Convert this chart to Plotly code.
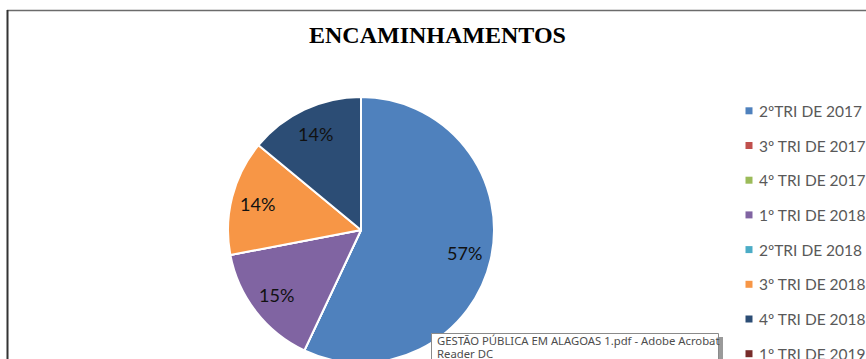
import math
import plotly.graph_objects as go

# Quarter labels and referral share (%) per quarter
quarters = [
    "2ºTRI DE 2017", "3º TRI DE 2017", "4º TRI DE 2017", "1º TRI DE 2018",
    "2ºTRI DE 2018", "3º TRI DE 2018", "4º TRI DE 2018", "1º TRI DE 2019",
]
shares = [57, 0, 0, 15, 0, 14, 14, 0]
colors = ["#4F81BD", "#C0504D", "#9BBB59", "#8064A2",
          "#4BACC6", "#F79646", "#2C4D75", "#772C2A"]

W, H = 866, 372


def px(x):
    return x / W


def py(y):
    return 1 - y / H


cx, cy, r = 361, 230, 133

fig = go.Figure(go.Pie(
    labels=quarters,
    values=shares,
    marker=dict(colors=colors, line=dict(color="white", width=2)),
    sort=False,
    direction="clockwise",
    rotation=0,
    textinfo="none",
    domain=dict(x=[px(cx - r), px(cx + r)], y=[py(cy + r), py(cy - r)]),
    showlegend=False,
    hoverinfo="label+percent",
))

shapes = [
    # chart frame
    dict(type="line", xref="paper", yref="paper", x0=px(7), x1=1, y0=py(10.5), y1=py(10.5),
         line=dict(color="#6b6b6b", width=1.5)),
    dict(type="line", xref="paper", yref="paper", x0=px(7.5), x1=px(7.5), y0=py(10), y1=0,
         line=dict(color="#333333", width=2)),
]
annotations = [
    dict(text="<b>ENCAMINHAMENTOS</b>", x=px(437.5), y=py(35), xref="paper", yref="paper",
         showarrow=False, xanchor="center", yanchor="middle",
         font=dict(family="Liberation Serif, Times New Roman, serif", size=24, color="#000000")),
]

# percentage labels placed at each slice's mid-angle, 0.8 of the radius out
total = sum(shares)
acc = 0.0
for v in shares:
    if v > 0:
        mid = (acc + v / 2) / total * 2 * math.pi
        lx = cx + 0.8 * r * math.sin(mid)
        ly = cy - 0.8 * r * math.cos(mid)
        annotations.append(dict(text=f"{round(v / total * 100)}%", x=px(lx), y=py(ly),
                                xref="paper", yref="paper", showarrow=False,
                                xanchor="center", yanchor="middle",
                                font=dict(family="Lato, Carlito, sans-serif", size=18,
                                          color="#111111")))
    acc += v

# legend entries
y0, step = 110.8, 34.7
for i, (name, col) in enumerate(zip(quarters, colors)):
    yc = y0 + i * step
    shapes.append(dict(type="rect", xref="paper", yref="paper",
                       x0=px(745.5), x1=px(752.5), y0=py(yc + 3.5), y1=py(yc - 3.5),
                       fillcolor=col, line=dict(width=0)))
    annotations.append(dict(text=name, x=px(757), y=py(yc), xref="paper", yref="paper",
                            showarrow=False, xanchor="left", yanchor="middle",
                            font=dict(family="Lato, Carlito, sans-serif", size=15.5, color="#595959")))

# window tooltip overlay
shapes.append(dict(type="rect", xref="paper", yref="paper",
                   x0=px(719), x1=px(723), y0=0, y1=py(337),
                   fillcolor="#9a9a9a", line=dict(width=0)))
shapes.append(dict(type="rect", xref="paper", yref="paper",
                   x0=px(431.5), x1=px(718.5), y0=py(H + 5), y1=py(333.5),
                   fillcolor="white", line=dict(color="#8a8a8a", width=1)))
for line_text, ly in [("GESTÃO PÚBLICA EM ALAGOAS 1.pdf - Adobe Acrobat", 340.5),
                      ("Reader DC", 353.5)]:
    annotations.append(dict(text=line_text, x=px(436), y=py(ly), xref="paper", yref="paper",
                            showarrow=False, xanchor="left", yanchor="middle", align="left",
                            borderpad=0,
                            font=dict(family="Noto Sans, DejaVu Sans, sans-serif", size=11.3,
                                      color="#4d4d4d")))

fig.update_layout(
    width=W, height=H,
    margin=dict(l=0, r=0, t=0, b=0),
    paper_bgcolor="white",
    plot_bgcolor="white",
    shapes=shapes,
    annotations=annotations,
)

fig.write_html(
    "out.html",
    post_script="document.body.style.overflow='hidden';document.documentElement.style.overflow='hidden';",
)
